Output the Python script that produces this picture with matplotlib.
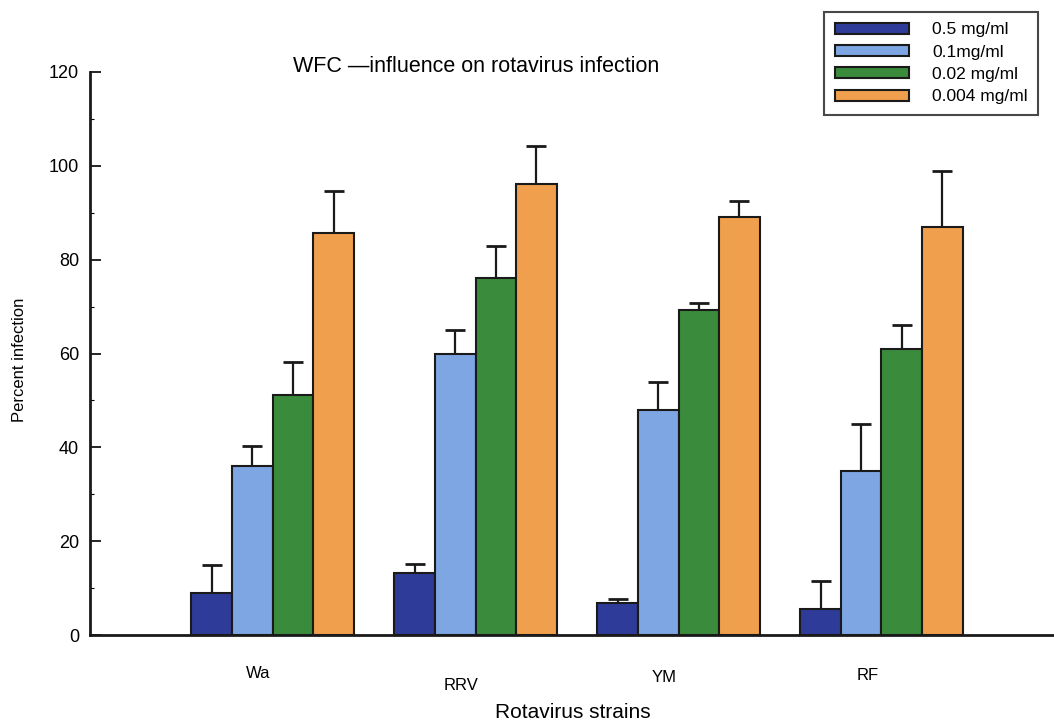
import matplotlib.pyplot as plt
import numpy as np
from matplotlib.ticker import MultipleLocator

plt.rcParams['font.family'] = ['Liberation Sans', 'DejaVu Sans']

# data
strains = ['Wa', 'RRV', 'YM', 'RF']
doses = ['0.5 mg/ml', '0.1mg/ml', '0.02 mg/ml', '0.004 mg/ml']
colors = ['#2f3b98', '#7ea6e2', '#3b8b3c', '#f0a04c']

infection = [
    [9.0, 13.2, 6.8, 5.5],    # 0.5 mg/ml
    [36.0, 60.0, 48.0, 35.0],  # 0.1 mg/ml
    [51.2, 76.0, 69.2, 61.0],  # 0.02 mg/ml
    [85.7, 96.2, 89.0, 87.0],  # 0.004 mg/ml
]
err_up = [
    [6.0, 2.0, 0.9, 6.0],
    [4.2, 5.0, 6.0, 10.0],
    [7.0, 7.0, 1.6, 5.0],
    [9.0, 8.0, 3.6, 11.8],
]
label_drop = [0, 12, 4, 2]  # category labels are staggered in the original

fig = plt.figure(figsize=(10.54, 7.22), dpi=100)
ax = fig.add_axes([90 / 1054, 87 / 722, 964 / 1054, 563 / 722])

x = np.arange(len(strains))
width = 0.2
for i in range(len(doses)):
    pos = x + (i - 1.5) * width
    zeros = np.zeros(len(strains))
    ax.bar(pos, infection[i], width, color=colors[i], edgecolor='#1a1a1a',
           linewidth=1.5, label=doses[i], zorder=2)
    ax.errorbar(pos, infection[i], yerr=[zeros, err_up[i]], fmt='none',
                ecolor='#1a1a1a', elinewidth=1.6, capsize=7, capthick=2, zorder=1)

ax.set_xlim(-0.9, 3.85)
ax.set_ylim(0, 120)
ax.yaxis.set_major_locator(MultipleLocator(20))
ax.yaxis.set_minor_locator(MultipleLocator(10))
ax.tick_params(axis='y', which='major', direction='in', length=8, width=1.2,
               labelsize=13, pad=8)
ax.tick_params(axis='y', which='minor', direction='in', length=3, width=0.8)
ax.set_xticks([])

for side in ['top', 'right']:
    ax.spines[side].set_visible(False)
ax.spines['left'].set_linewidth(2)
ax.spines['bottom'].set_linewidth(2)
ax.spines['left'].set_color('#1a1a1a')
ax.spines['bottom'].set_color('#1a1a1a')

for xi, name, d in zip(x, strains, label_drop):
    ax.annotate(name, xy=(xi - 0.07, 0), xycoords='data', xytext=(0, -38 - d),
                textcoords='offset pixels', ha='center', va='center', fontsize=12)

fig.text(573 / 1054, 1 - 713 / 722, 'Rotavirus strains', ha='center', va='center',
         fontsize=15)
fig.text(20 / 1054, 1 - 360 / 722, 'Percent infection', ha='center', va='center',
         rotation=90, fontsize=12)
fig.text(476 / 1054, 1 - 66 / 722, 'WFC \u2014influence on rotavirus infection',
         ha='center', va='center', fontsize=15.5)

leg = fig.legend(loc='upper right', bbox_to_anchor=(1038 / 1054, 1 - 12 / 722),
                 fontsize=12.5, frameon=True, fancybox=False, edgecolor='#1a1a1a',
                 handlelength=4.3, handleheight=0.6, labelspacing=0.42,
                 borderpad=0.6, handletextpad=1.3, borderaxespad=0)
leg.get_frame().set_linewidth(1.5)

fig.savefig('out.png', dpi=100)
